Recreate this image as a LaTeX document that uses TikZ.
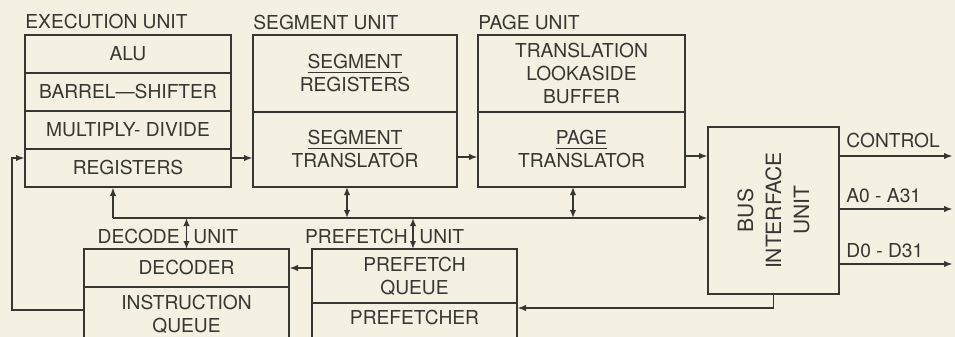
\documentclass[tikz,border=0pt]{standalone}
\usepackage{fontspec}
\setmainfont{TeX Gyre Heros}
\usetikzlibrary{arrows.meta,positioning,calc}
\definecolor{inkGray}{HTML}{363633}
\definecolor{paperBg}{HTML}{F4F0E2}
\newcommand{\unitfont}{\fontsize{9.6}{11.5}\selectfont}
\tikzset{
  cell/.style={draw=inkGray, line width=0.9pt, align=center, inner sep=0pt, outer sep=0pt, text=inkGray, font=\unitfont, minimum width=#1},
  lbl/.style={inner sep=0pt, text=inkGray, font=\unitfont, align=center},
  arr/.style={-{Latex[length=4.5pt,width=3.2pt]}, line width=0.9pt, draw=inkGray},
  dbl/.style={{Latex[length=4pt,width=3.2pt]}-{Latex[length=4pt,width=3.2pt]}, line width=0.9pt, draw=inkGray},
}

\begin{document}
\begin{tikzpicture}[x=0.5pt, y=-0.5pt]
\useasboundingbox (0,0) rectangle (955,337);
\fill[paperBg] (0,0) rectangle (955,337);

% execution unit
\node[cell=103pt, minimum height=19pt] (alu) at (128,54) {ALU};
\node[cell=103pt, minimum height=19pt, below=0pt of alu] (bsh) {BARREL—SHIFTER};
\node[cell=103pt, minimum height=19pt, below=0pt of bsh] (mdv) {MULTIPLY- DIVIDE};
\node[cell=103pt, minimum height=19pt, below=0pt of mdv] (reg) {REGISTERS};
\node[lbl, anchor=base west] (exlbl) at ([yshift=3.5pt]alu.north west) {EXECUTION UNIT};

% segment unit
\node[cell=102pt, minimum height=38.5pt] (sgr) at (355,73.5) {\underline{SEGMENT}\\REGISTERS};
\node[cell=102pt, minimum height=37.5pt, below=0pt of sgr] (sgt) {\underline{SEGMENT}\\TRANSLATOR};
\node[lbl, anchor=base west] (sglbl) at ([yshift=2.5pt]sgr.north west) {SEGMENT UNIT};

% page unit
\node[cell=103.5pt, minimum height=38.5pt] (tlb) at (581.5,73.5) {TRANSLATION\\LOOKASIDE\\BUFFER};
\node[cell=103.5pt, minimum height=37.5pt, below=0pt of tlb] (pgt) {\underline{PAGE}\\TRANSLATOR};
\node[lbl, anchor=base west] (pglbl) at ([yshift=2.5pt]tlb.north west) {PAGE UNIT};

% bus interface unit
\node[cell=65.5pt, minimum height=83.5pt] (biu) at (773.5,210.5) {};
\node[lbl, rotate=90, font=\fontsize{10.5}{12}\selectfont] (biutxt) at (biu.center) {BUS\\[2pt]INTERFACE\\[2pt]UNIT};

% decode unit
\node[cell=102.5pt, minimum height=19pt] (dcd) at (186.5,268) {DECODER};
\node[cell=102.5pt, minimum height=27pt, below=0pt of dcd] (iqu) {INSTRUCTION\\QUEUE};
\node[lbl, anchor=base east] (dclbl) at (180,243) {DECODE};
\node[lbl, anchor=base west] (dcunit) at (193,243) {UNIT};

% prefetch unit
\node[cell=102.5pt, minimum height=27pt] (pfq) at (414.5,276) {PREFETCH\\QUEUE};
\node[cell=102.5pt, minimum height=21pt, below=0pt of pfq] (pfr) {};
\node[lbl] (pfrtxt) at ([yshift=-7.5pt]pfr.north) {PREFETCHER};
\node[lbl, anchor=base east] (pflbl) at (408,243) {PREFETCH};
\node[lbl, anchor=base west] (pfunit) at (419,243) {UNIT};

% outputs
\coordinate (ctlout) at (953,156);
\coordinate (adrout) at (953,209);
\coordinate (datout) at (953,264);
\node[lbl, anchor=base west] (ctllbl) at (846,148) {CONTROL};
\node[lbl, anchor=base west] (adrlbl) at (846,202) {A0 - A31};
\node[lbl, anchor=base west] (datlbl) at (846,257) {D0 - D31};
\draw[arr] (biu.east |- ctlout) -- (ctlout);
\draw[arr] (biu.east |- adrout) -- (adrout);
\draw[arr] (biu.east |- datout) -- (datout);

% pipeline
\draw[arr] ([yshift=5pt]reg.east) -- ([yshift=5pt]reg.east -| sgt.west);
\draw[arr] ([yshift=-3.75pt]sgt.east) -- ([yshift=-3.75pt]sgt.east -| pgt.west);
\draw[arr] ([yshift=-3.25pt]pgt.east) -- ([yshift=-3.25pt]pgt.east -| biu.west);

% internal bus
\coordinate (busL) at (113,218);
\draw[arr] (busL) -- (busL |- reg.south);
\draw[arr] (busL) -- (busL -| biu.west);
\draw[dbl] ([xshift=-4pt]sgt.south) -- ([xshift=-4pt]sgt.south |- busL);
\draw[dbl] ([xshift=-4.25pt]pgt.south) -- ([xshift=-4.25pt]pgt.south |- busL);
\draw[dbl] (dcd.north) -- (dcd.north |- busL);
\draw[dbl] ([xshift=-0.75pt]pfq.north) -- ([xshift=-0.75pt]pfq.north |- busL);

% queues and feedback
\draw[arr] (dcd.east -| pfq.west) -- (dcd.east);
\draw[arr] (biu.south) |- ([yshift=8pt]pfr.east);
\draw[arr] ([yshift=2pt]iqu.west) -- ++(-72,0) |- ([yshift=5pt]reg.west);
\end{tikzpicture}
\end{document}
